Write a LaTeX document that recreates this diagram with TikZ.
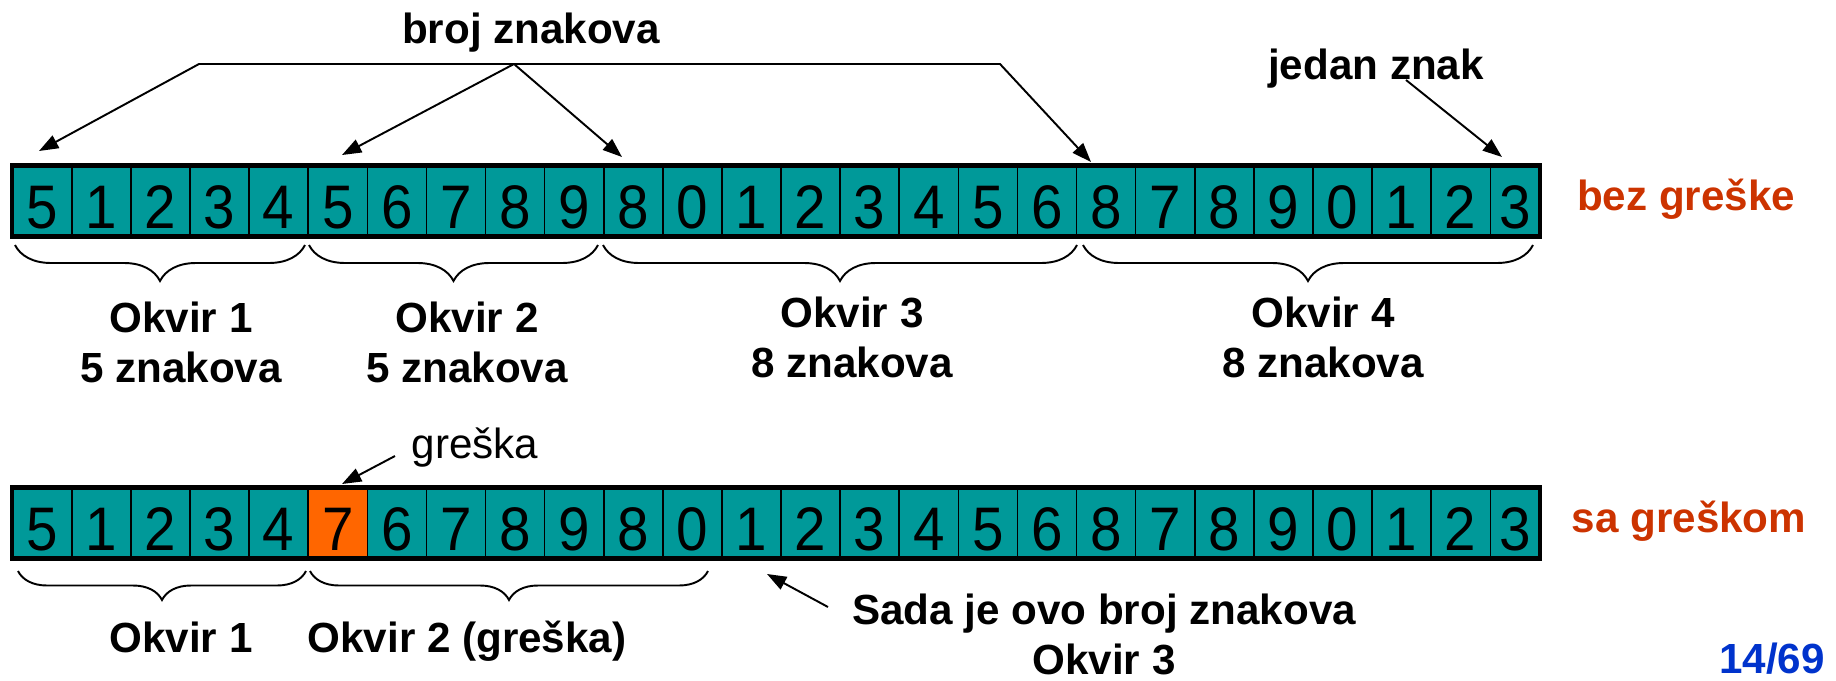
\documentclass[tikz,border=0pt]{standalone}
\usepackage{fontspec}
\setmainfont{Liberation Sans}
\newfontfamily\cellfont[FakeStretch=0.92]{Liberation Sans}
\usetikzlibrary{arrows.meta,decorations.pathreplacing}

\definecolor{cellteal}{RGB}{0,153,153}
\definecolor{errorange}{RGB}{255,102,0}
\definecolor{statusred}{RGB}{204,51,0}
\definecolor{pageblue}{RGB}{0,51,204}

\begin{document}
\begin{tikzpicture}[x=0.02cm, y=-0.02cm,
    cell/.style={draw, line width=0.85pt, fill=cellteal, anchor=west, inner sep=0pt,
      minimum height=1.40cm, text height=1.08cm, text depth=0pt,
      font=\cellfont\fontsize{35}{35}\selectfont},
    rowframe/.style={draw, line width=2.8pt},
    lbl/.style={font=\fontsize{24}{28.5}\selectfont\bfseries, align=center},
    arr/.style={line width=1.1pt, -{Triangle[length=11pt, width=8pt]}},
    brc/.style={decorate, decoration={brace, mirror, amplitude=0.72cm}, line width=1.1pt}]

  \useasboundingbox (0,0) rectangle (1836,680);

  % niz bez greske
  \foreach \digit [count=\i] in {5,1,2,3,4,5,6,7,8,9,8,0,1,2,3,4,5,6,8,7,8,9,0,1,2,3} {
    \ifnum\i=26 \def\cellw{0.98cm}\else\def\cellw{1.182cm}\fi
    \node[cell, minimum width=\cellw] (t\i) at ({12+59.1*(\i-1)},201) {\digit};
  }
  \draw[rowframe] (t1.north west) rectangle (t26.south east);

  % niz sa greskom
  \foreach \digit [count=\i] in {5,1,2,3,4,7,6,7,8,9,8,0,1,2,3,4,5,6,8,7,8,9,0,1,2,3} {
    \ifnum\i=26 \def\cellw{0.98cm}\else\def\cellw{1.182cm}\fi
    \ifnum\i=6 \def\cellfill{errorange}\else\def\cellfill{cellteal}\fi
    \node[cell, minimum width=\cellw, fill=\cellfill] (b\i) at ({12+59.1*(\i-1)},523) {\digit};
  }
  \draw[rowframe] (b1.north west) rectangle (b26.south east);

  \begin{scope}[every node/.style={lbl}]
    \node[anchor=base] (count) at (531,43)  {broj znakova};
    \node[anchor=base] (one)   at (1376,79) {jedan znak};
    \node[anchor=base, text=statusred] (ok)  at (1686,210) {bez greške};
    \node[anchor=base, text=statusred] (bad) at (1689,532) {sa greškom};

    \node (f1) at (181,342) {Okvir 1\\5 znakova};
    \node (f2) at (467,342) {Okvir 2\\5 znakova};
    \node (f3) at (852,337) {Okvir 3\\8 znakova};
    \node (f4) at (1323,337) {Okvir 4\\8 znakova};

    \node[anchor=base] (g1) at (181,652) {Okvir 1};
    \node[anchor=base] (g2) at (467,652) {Okvir 2 (greška)};
    \node (now) at (1104,634) {Sada je ovo broj znakova\\Okvir 3};
    \node[anchor=base, text=pageblue] (page) at (1772,673) {14/69};

    \node[anchor=base, font=\fontsize{24}{28.5}\selectfont] (err) at (475,458) {greška};
  \end{scope}

  \coordinate (barL) at (199,64);
  \coordinate (barR) at (1000,64);
  \coordinate (hub)  at (514,64);
  \coordinate (tipA) at (39,151);
  \coordinate (tipB) at (342,155);
  \coordinate (tipC) at (622,157);
  \coordinate (tipD) at (1091,162);
  \coordinate (oneS) at (1406,80);
  \coordinate (tipE) at (1502,157);
  \coordinate (errS) at (395,456);
  \coordinate (tipF) at (342,484);
  \coordinate (nowS) at (828,607);
  \coordinate (tipG) at (767,574);

  \draw[arr] (hub) -- (barL) -- (tipA);
  \draw[arr] (hub) -- (barR) -- (tipD);
  \draw[arr] (hub) -- (tipB);
  \draw[arr] (hub) -- (tipC);
  \draw[arr] (oneS) -- (tipE);
  \draw[arr] (errS) -- (tipF);
  \draw[arr] (nowS) -- (tipG);

  \draw[brc] (15,245) -- (305,245);
  \draw[brc] (309,245) -- (598,245);
  \draw[brc] (603,245) -- (1077,245);
  \draw[brc] (1083,245) -- (1533,245);
  \draw[brc, decoration={amplitude=0.58cm}] (18,571) -- (306,571);
  \draw[brc, decoration={amplitude=0.58cm}] (310,571) -- (708,571);

\end{tikzpicture}
\end{document}
